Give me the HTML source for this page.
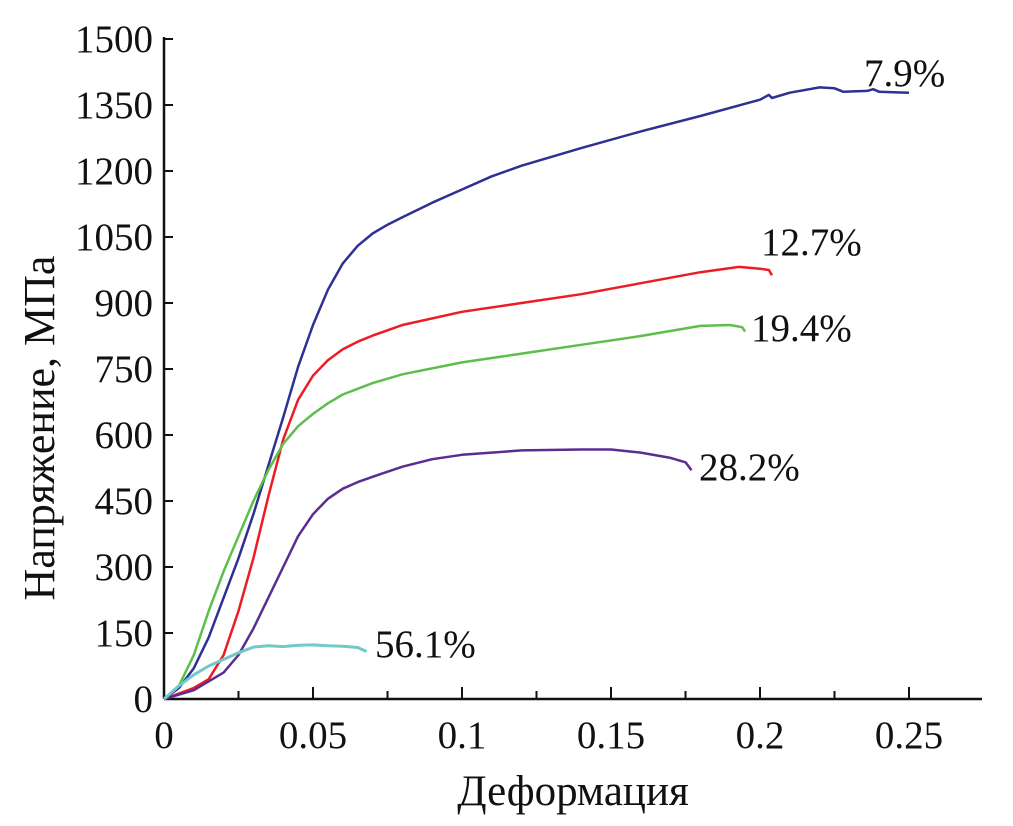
<!DOCTYPE html>
<html><head><meta charset="utf-8"><style>
body{margin:0;background:#fff;}
svg text{font-family:"Liberation Serif","Noto Serif CJK SC",serif;fill:#111;}
</style></head><body>
<svg id="chart" width="1013" height="821" viewBox="0 0 1013 821" xmlns="http://www.w3.org/2000/svg">
<g id="axes"></g><g id="series"></g><g id="labels"></g>
</svg>
<script>
const xTicks=[0,0.05,0.1,0.15,0.2,0.25];
const xTickLabels=["0","0.05","0.1","0.15","0.2","0.25"];
const yTicks=[0,150,300,450,600,750,900,1050,1200,1350,1500];
const blueStrain=[0,0.005,0.01,0.015,0.02,0.025,0.03,0.035,0.04,0.045,0.05,0.055,0.06,0.065,0.07,0.075,0.08,0.09,0.1,0.11,0.12,0.14,0.16,0.18,0.2,0.203,0.204,0.21,0.22,0.225,0.228,0.236,0.238,0.24,0.25];
const blueStress=[0,25,70,140,230,320,420,530,640,755,850,930,990,1030,1058,1078,1095,1128,1158,1188,1212,1252,1290,1325,1362,1373,1366,1378,1390,1388,1380,1382,1386,1380,1378];
const redStrain=[0,0.01,0.015,0.02,0.025,0.03,0.035,0.04,0.045,0.05,0.055,0.06,0.065,0.07,0.08,0.1,0.12,0.14,0.16,0.18,0.193,0.2,0.203,0.204];
const redStress=[0,25,45,100,200,320,460,590,680,735,770,795,812,826,850,880,900,920,945,970,982,978,975,963];
const greenStrain=[0,0.005,0.01,0.015,0.02,0.025,0.03,0.035,0.04,0.045,0.05,0.055,0.06,0.07,0.08,0.1,0.12,0.14,0.16,0.18,0.19,0.194,0.195];
const greenStress=[0,30,100,200,290,370,450,520,580,620,648,672,692,718,738,765,785,805,825,848,850,845,835];
const purpleStrain=[0,0.01,0.02,0.025,0.03,0.035,0.04,0.045,0.05,0.055,0.06,0.065,0.07,0.08,0.09,0.1,0.12,0.14,0.15,0.16,0.17,0.175,0.177];
const purpleStress=[0,20,60,100,160,230,300,370,420,455,478,493,505,528,545,555,565,567,567,560,548,538,520];
const cyanStrain=[0,0.005,0.01,0.015,0.02,0.025,0.03,0.035,0.04,0.045,0.05,0.055,0.06,0.065,0.068];
const cyanStress=[0,30,55,75,90,105,118,121,119,122,123,121,120,117,108];
const seriesNames=["7.9%","12.7%","19.4%","28.2%","56.1%"];

const NS="http://www.w3.org/2000/svg";
const X0=164,Y0=699;
const xS=e=>X0+e*2980;
const yS=s=>Y0-s*0.44;
function mk(tag,attrs,parent,text){const el=document.createElementNS(NS,tag);for(const k in attrs)el.setAttribute(k,attrs[k]);if(text!==undefined)el.textContent=text;parent.appendChild(el);return el;}
const axes=document.getElementById('axes');
let a=mk('line',{x1:X0,y1:Y0,x2:982,y2:Y0,stroke:'#111','stroke-width':2.5},axes);


a=mk('line',{x1:X0,y1:Y0,x2:X0,y2:yS(1500)-2,stroke:'#111','stroke-width':2.5},axes);


for(let i=0;i<11;i++){const e=i*0.025;const t=mk('line',{x1:xS(e),y1:Y0,x2:xS(e),y2:Y0-(i%2?8:12),stroke:'#111','stroke-width':2},axes);

}
xTicks.forEach((v,i)=>{const t=mk('text',{x:xS(v),y:748,'font-size':39,'text-anchor':'middle'},axes,xTickLabels[i]);

});
yTicks.forEach(v=>{const l=mk('line',{x1:X0,y1:yS(v),x2:X0+9,y2:yS(v),stroke:'#111','stroke-width':2},axes);


const t=mk('text',{x:153,y:yS(v)+13,'font-size':39,'text-anchor':'end'},axes,String(v));

});
let tt=mk('text',{x:573,y:805,'font-size':43,'text-anchor':'middle'},axes,'Деформация');


tt=mk('text',{x:0,y:0,'font-size':44,'text-anchor':'middle',transform:'translate(54,428) rotate(-90)'},axes,'Напряжение, МПа');



const series=[[blueStrain,blueStress,'#2e3192'],[redStrain,redStress,'#ed1c24'],[greenStrain,greenStress,'#5cbf4b'],[purpleStrain,purpleStress,'#5b2d90'],[cyanStrain,cyanStress,'#72c9c9']];
const labelPos=[[864,86],[761,255],[751,341],[699,480],[375,657]];
const sg=document.getElementById('series'),lg=document.getElementById('labels');
series.forEach((s,i)=>{const d=s[0].map((e,j)=>(j?'L':'M')+xS(e).toFixed(1)+','+yS(s[1][j]).toFixed(1)).join(' ');
const p=mk('path',{d:d,fill:'none',stroke:s[2],'stroke-width':i==4?3:2.5,'stroke-linejoin':'round'},sg);


const t=mk('text',{x:labelPos[i][0],y:labelPos[i][1],'font-size':39},lg,seriesNames[i]);

});
</script>
</body></html>
